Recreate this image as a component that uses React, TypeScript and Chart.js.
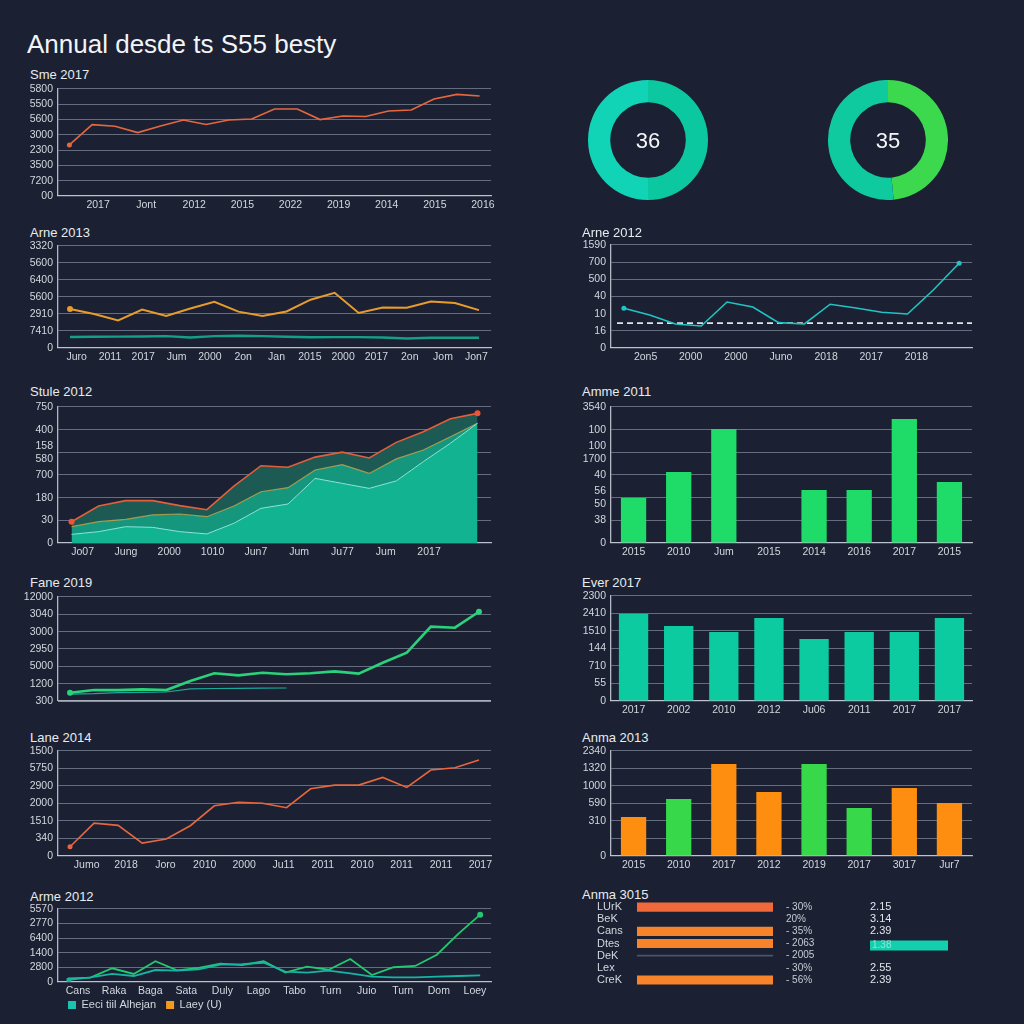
import React, { useEffect, useRef } from "react";
import { Chart, registerables } from "chart.js";

Chart.register(...registerables);

const FONT = "'Liberation Sans', Arial, Helvetica, sans-serif";
const BG = "#1b2132";
const GRID = "rgba(150,160,180,0.6)";
const AXIS = "rgba(205,210,222,0.85)";
const TICK = "#d3d7df";
const TITLE = "#e8ebf0";

Chart.defaults.font.family = FONT;
Chart.defaults.font.size = 10.5;
Chart.defaults.color = TICK;

// ===================== DATA =====================
const pageTitle = "Annual desde ts S55 besty";

// Left 1
const l1Title = "Sme 2017";
const l1YTicks = ["00", "7200", "3500", "2300", "3000", "5600", "5500", "5800"];
const l1XTicks = ["2017", "Jont", "2012", "2015", "2022", "2019", "2014", "2015", "2016"];
const l1Series = [3.34, 4.67, 4.56, 4.15, 4.58, 4.97, 4.68, 4.97, 5.04, 5.69, 5.69, 5.0, 5.23, 5.2, 5.56, 5.63, 6.35, 6.65, 6.54];

// Left 2
const l2Title = "Arne 2013";
const l2YTicks = ["0", "7410", "2910", "5600", "6400", "5600", "3320"];
const l2XTicks = ["Juro", "2011", "2017", "Jum", "2000", "2on", "Jan", "2015", "2000", "2017", "2on", "Jom", "Jon7"];
const l2Orange = [2.29, 2.0, 1.62, 2.26, 1.88, 2.32, 2.72, 2.14, 1.88, 2.15, 2.84, 3.25, 2.06, 2.38, 2.37, 2.73, 2.65, 2.23];
const l2Teal = [0.65, 0.66, 0.67, 0.68, 0.7, 0.62, 0.7, 0.72, 0.7, 0.66, 0.63, 0.64, 0.64, 0.62, 0.56, 0.6, 0.6, 0.6];

// Left 3
const l3Title = "Stule 2012";
const l3YTicks = ["0", "30", "180", "700", ["158", "580"], "400", "750"];
const l3XTicks = ["Jo07", "Jung", "2000", "1010", "Jun7", "Jum", "Ju77", "Jum", "2017", ""];
const l3High = [0.94, 1.63, 1.87, 1.87, 1.65, 1.47, 2.51, 3.41, 3.34, 3.79, 4.01, 3.75, 4.44, 4.91, 5.48, 5.72];
const l3Mid = [0.72, 0.94, 1.04, 1.24, 1.28, 1.16, 1.63, 2.26, 2.44, 3.22, 3.46, 3.07, 3.71, 4.1, 4.69, 5.28];
const l3Low = [0.38, 0.5, 0.72, 0.69, 0.5, 0.4, 0.87, 1.53, 1.72, 2.85, 2.63, 2.41, 2.74, 3.59, 4.4, 5.28];

// Left 4
const l4Title = "Fane 2019";
const l4YTicks = ["300", "1200", "5000", "2950", "3000", "3040", "12000"];
const l4Main = [0.48, 0.63, 0.63, 0.67, 0.63, 1.15, 1.6, 1.48, 1.63, 1.54, 1.6, 1.71, 1.58, 2.21, 2.79, 4.29, 4.23, 5.15];
const l4Second = [0.4, 0.42, 0.48, 0.5, 0.52, 0.7, 0.72, 0.73, 0.74, 0.75, null, null, null, null, null, null, null, null];

// Left 5
const l5Title = "Lane 2014";
const l5YTicks = ["0", "340", "1510", "2000", "2900", "5750", "1500"];
const l5XTicks = ["Jumo", "2018", "Joro", "2010", "2000", "Ju11", "2011", "2010", "2011", "2011", "2017"];
const l5Series = [0.53, 1.88, 1.75, 0.74, 0.97, 1.73, 2.87, 3.07, 3.01, 2.76, 3.84, 4.05, 4.05, 4.49, 3.92, 4.91, 5.04, 5.48];

// Left 6
const l6Title = "Arme 2012";
const l6YTicks = ["0", "2800", "1400", "6400", "2770", "5570"];
const l6XTicks = ["Cans", "Raka", "Baga", "Sata", "Duly", "Lago", "Tabo", "Turn", "Juio", "Turn", "Dom", "Loey"];
const l6Names = ["Eeci tiil Alhejan", "Laey (U)"];
const l6Teal = [0.14, 0.32, 0.55, 0.41, 0.82, 0.78, 0.87, 1.19, 1.23, 1.32, 0.71, 0.64, 0.78, 0.59, 0.37, 0.32, 0.32, 0.37, 0.41, 0.46];
const l6Green = [0.25, 0.3, 0.94, 0.55, 1.42, 0.8, 0.96, 1.25, 1.16, 1.42, 0.64, 1.05, 0.84, 1.58, 0.48, 1.01, 1.1, 1.87, 3.31, 4.61];

// Donuts
const donut1Value = "36";
const donut1Parts = [50, 50];
const donut2Value = "35";
const donut2Parts = [48.5, 51.5];

// Right 1
const r1Title = "Arne 2012";
const r1YTicks = ["0", "16", "10", "40", "500", "700", "1590"];
const r1XTicks = ["2on5", "2000", "2000", "Juno", "2018", "2017", "2018", ""];
const r1Series = [2.31, 1.92, 1.4, 1.28, 2.68, 2.39, 1.48, 1.4, 2.55, 2.33, 2.08, 1.98, 3.38, 4.94];
const r1Threshold = 1.45;

// Right 2
const r2Title = "Amme 2011";
const r2YTicks = ["0", "38", ["56", "50"], "40", ["100", "1700"], "100", "3540"];
const r2XTicks = ["2015", "2010", "Jum", "2015", "2014", "2016", "2017", "2015"];
const r2Values = [1.99, 3.13, 5.03, 0, 2.34, 2.34, 5.47, 2.69];

// Right 3
const r3Title = "Ever 2017";
const r3YTicks = ["0", "55", "710", "144", "1510", "2410", "2300"];
const r3XTicks = ["2017", "2002", "2010", "2012", "Ju06", "2011", "2017", "2017"];
const r3Values = [4.97, 4.28, 3.94, 4.74, 3.54, 3.94, 3.94, 4.74];

// Right 4
const r4Title = "Anma 2013";
const r4YTicks = ["0", "", "310", "590", "1000", "1320", "2340"];
const r4XTicks = ["2015", "2010", "2017", "2012", "2019", "2017", "3017", "Jur7"];
const r4Values = [2.23, 3.26, 5.26, 3.66, 5.26, 2.74, 3.89, 3.03];
const r4Kinds = ["o", "g", "o", "o", "g", "g", "o", "o"];

// Right 5
const r5Title = "Anma 3015";
const r5Cats = ["LUrK", "BeK", "Cans", "Dtes", "DeK", "Lex", "CreK"];
const r5Values = [100, 0, 100, 100, null, 0, 100];
const r5Rule = [null, null, null, null, 100, null, null];
const r5Pct = ["- 30%", "20%", "- 35%", "- 2063", "- 2005", "- 30%", "- 56%"];
const r5Score = ["2.15", "3.14", "2.39", "1.38", "", "2.55", "2.39"];
const r5Highlight = [false, false, false, true, false, false, false];

// ===================== HELPERS =====================
const ORANGE_RED = "#e6673f";

function dots(indices: number[], r = 2.5) {
  return (c: any) => {
    const n = c.dataset.data.length;
    return indices.map((i) => (i < 0 ? n + i : i)).includes(c.dataIndex) ? r : 0;
  };
}

function yAxis(labels: any[], width: number, hideGrid: number[] = []) {
  return {
    type: "linear",
    position: "left",
    min: 0,
    max: labels.length - 1,
    afterFit: (s: any) => {
      s.width = width;
    },
    afterBuildTicks: (s: any) => {
      s.ticks = labels.map((_: any, i: number) => ({ value: i }));
    },
    ticks: {
      callback: (v: any) => labels[v] ?? "",
      color: TICK,
      padding: 5,
      autoSkip: false,
    },
    grid: {
      color: (ctx: any) => (hideGrid.includes(ctx.index) ? "rgba(0,0,0,0)" : GRID),
      drawTicks: false,
      lineWidth: 1.1,
    },
    border: { display: true, color: AXIS, width: 1.3 },
  };
}

function xAxis(labels: string[], height: number, labelOffset = 0) {
  return {
    type: "category",
    position: "bottom",
    labels,
    offset: true,
    afterFit: (s: any) => {
      s.height = height;
    },
    grid: { display: false, drawTicks: false },
    border: { display: true, color: AXIS, width: 1.3 },
    ticks: { color: TICK, padding: 3, autoSkip: false, maxRotation: 0, labelOffset },
  };
}

function xData(n: number) {
  return {
    type: "category",
    position: "bottom",
    labels: Array.from({ length: n }, (_, i) => String(i)),
    offset: true,
    display: false,
  };
}

function lineDs(data: any[], color: string, width: number, extra: any = {}) {
  return {
    data,
    xAxisID: "xd",
    yAxisID: "y",
    borderColor: color,
    backgroundColor: color,
    borderWidth: width,
    pointRadius: 0,
    pointBorderWidth: 0,
    pointBackgroundColor: color,
    tension: 0,
    fill: false,
    spanGaps: false,
    ...extra,
  };
}

function baseOptions(pad: any) {
  return {
    responsive: false,
    animation: false,
    layout: { padding: pad },
    plugins: { legend: { display: false }, tooltip: { enabled: false } },
  };
}

const LEFT_PAD = { top: 12, right: 9, bottom: 0, left: 0 };
const RIGHT_PAD = { top: 12, right: 8, bottom: 0, left: 0 };

// ===================== CONFIGS =====================
const cfgL1 = () => ({
  type: "line",
  data: { datasets: [lineDs(l1Series, ORANGE_RED, 1.6, { pointRadius: dots([0]) })] },
  options: {
    ...baseOptions(LEFT_PAD),
    scales: { x: xAxis(l1XTicks, 22, 16), xd: xData(l1Series.length), y: yAxis(l1YTicks, 38) },
  },
});

const cfgL2 = () => ({
  type: "line",
  data: {
    datasets: [
      lineDs(l2Orange, "#e89c2c", 2, { pointRadius: dots([0], 3) }),
      lineDs(l2Teal, "#169f88", 2.4),
    ],
  },
  options: {
    ...baseOptions(LEFT_PAD),
    scales: { x: xAxis(l2XTicks, 22, 2), xd: xData(l2Orange.length), y: yAxis(l2YTicks, 38) },
  },
});

const cfgL3 = () => ({
  type: "line",
  data: {
    datasets: [
      lineDs(l3Low, "#8ee6dc", 1, { backgroundColor: "#11b391", fill: "origin" }),
      lineDs(l3Mid, "rgba(214,172,76,0.75)", 1.2, { backgroundColor: "#15977e", fill: "-1" }),
      lineDs(l3High, "#e35f3a", 1.6, {
        backgroundColor: "#1d5a54",
        fill: "-1",
        pointRadius: dots([0, -1], 3),
        pointBackgroundColor: "#ef5436",
      }),
    ],
  },
  options: {
    ...baseOptions(LEFT_PAD),
    scales: { x: xAxis(l3XTicks, 22, 3), xd: xData(l3High.length), y: yAxis(l3YTicks, 38) },
  },
});

const cfgL4 = () => ({
  type: "line",
  data: {
    datasets: [
      lineDs(l4Main, "#2bd27a", 2.6, { pointRadius: dots([0, -1], 3) }),
      lineDs(l4Second, "#1aa89a", 1.2),
    ],
  },
  options: {
    ...baseOptions({ top: 12, right: 9, bottom: 12, left: 0 }),
    scales: {
      xd: { ...xData(l4Main.length), display: false },
      y: { ...yAxis(l4YTicks, 38) },
    },
  },
  plugins: [
    {
      id: "baseLine",
      afterDraw(chart: any) {
        const { ctx, chartArea } = chart;
        ctx.save();
        ctx.strokeStyle = AXIS;
        ctx.lineWidth = 1.3;
        ctx.beginPath();
        ctx.moveTo(chartArea.left, chartArea.bottom);
        ctx.lineTo(chartArea.right, chartArea.bottom);
        ctx.stroke();
        ctx.restore();
      },
    },
  ],
});

const cfgL5 = () => ({
  type: "line",
  data: { datasets: [lineDs(l5Series, ORANGE_RED, 1.6, { pointRadius: dots([0]) })] },
  options: {
    ...baseOptions(LEFT_PAD),
    scales: { x: xAxis(l5XTicks, 22, 9), xd: xData(l5Series.length), y: yAxis(l5YTicks, 38) },
  },
});

const legendColors = ["#19c3b0", "#f39a1e"];
const cfgL6 = () => ({
  type: "line",
  data: {
    datasets: [
      lineDs(l6Teal, "#17b3a5", 1.8, { label: l6Names[0], pointRadius: dots([0]) }),
      lineDs(l6Green, "#23c870", 1.8, { label: l6Names[1], pointRadius: dots([-1], 3) }),
    ],
  },
  options: {
    ...baseOptions(LEFT_PAD),
    plugins: {
      tooltip: { enabled: false },
      legend: {
        display: true,
        position: "bottom",
        align: "start",
        labels: {
          boxWidth: 8,
          boxHeight: 8,
          padding: 10,
          color: TICK,
          font: { size: 11 },
          generateLabels: (chart: any) =>
            chart.data.datasets.map((d: any, i: number) => ({
              text: d.label,
              fillStyle: legendColors[i],
              strokeStyle: legendColors[i],
              lineWidth: 0,
              hidden: false,
              datasetIndex: i,
              fontColor: TICK,
            })),
        },
      },
    },
    scales: { x: xAxis(l6XTicks, 16, 2), xd: xData(l6Green.length), y: yAxis(l6YTicks, 38) },
  },
  plugins: [
    {
      id: "shiftLegend",
      afterLayout(chart: any) {
        if (chart.legend) {
          chart.legend.left += 38;
          chart.legend.right += 38;
          chart.legend.top -= 8.5;
          chart.legend.bottom -= 8.5;
        }
      },
    },
  ],
});

const cfgDonut = (parts: number[], colors: string[]) => () => ({
  type: "doughnut",
  data: { datasets: [{ data: parts, backgroundColor: colors, borderWidth: 0, hoverOffset: 0, offset: 0 }] },
  options: { ...baseOptions(0), cutout: "63%" },
});

const cfgR1 = () => ({
  type: "line",
  data: { datasets: [lineDs(r1Series, "#20c4c4", 1.6, { pointRadius: dots([0, -1], 2.5) })] },
  options: {
    ...baseOptions(RIGHT_PAD),
    scales: { x: xAxis(r1XTicks, 22, 12), xd: xData(r1Series.length), y: yAxis(r1YTicks, 41, [2]) },
  },
  plugins: [
    {
      id: "threshold",
      beforeDatasetsDraw(chart: any) {
        const { ctx, chartArea, scales } = chart;
        const y = scales.y.getPixelForValue(r1Threshold);
        ctx.save();
        ctx.setLineDash([6, 4]);
        ctx.strokeStyle = "#dfe3ea";
        ctx.lineWidth = 1.6;
        ctx.beginPath();
        ctx.moveTo(chartArea.left + 6, y);
        ctx.lineTo(chartArea.right, y);
        ctx.stroke();
        ctx.restore();
      },
    },
  ],
});

const barCfg = (labels: string[], values: number[], colors: any, yTicks: any[], pct: number) => () => ({
  type: "bar",
  data: {
    labels,
    datasets: [{ data: values, backgroundColor: colors, barPercentage: pct, categoryPercentage: 1 }],
  },
  options: {
    ...baseOptions(RIGHT_PAD),
    scales: { x: xAxis(labels, 22, 0), y: yAxis(yTicks, 41) },
  },
});

const cfgR2 = barCfg(r2XTicks, r2Values, "#1fdc68", r2YTicks, 0.56);
const cfgR3 = barCfg(r3XTicks, r3Values, "#0ccba0", r3YTicks, 0.65);
const cfgR4 = barCfg(
  r4XTicks,
  r4Values,
  r4Kinds.map((k) => (k === "o" ? "#fd8e10" : "#38d84b")),
  r4YTicks,
  0.56
);

const cfgR5 = () => ({
  type: "bar",
  data: {
    labels: r5Cats,
    datasets: [
      {
        data: r5Values,
        backgroundColor: r5Cats.map((_, i) => (i === 0 ? "#f0693b" : "#f7832a")),
        barPercentage: 0.75,
        categoryPercentage: 1,
        grouped: false,
      },
      { data: r5Rule, backgroundColor: "#4a546a", barPercentage: 0.14, categoryPercentage: 1, grouped: false },
    ],
  },
  options: {
    ...baseOptions({ top: 9, bottom: 9, left: 0, right: 187 }),
    indexAxis: "y",
    scales: {
      x: { type: "linear", min: 0, max: 100, display: false },
      y: {
        type: "category",
        afterFit: (s: any) => {
          s.width = 40;
        },
        grid: { display: false, drawTicks: false },
        border: { display: false },
        ticks: { crossAlign: "far", padding: 2, color: TICK, font: { size: 11 }, autoSkip: false },
      },
    },
  },
  plugins: [
    {
      id: "tableCols",
      afterDraw(chart: any) {
        const { ctx, chartArea, scales } = chart;
        ctx.save();
        ctx.textBaseline = "middle";
        r5Cats.forEach((_, i) => {
          const y = scales.y.getPixelForValue(i);
          ctx.font = `10px ${FONT}`;
          ctx.fillStyle = "#c6cbd5";
          ctx.textAlign = "left";
          ctx.fillText(r5Pct[i], chartArea.right + 13, y);
          const x2 = chartArea.right + 97;
          if (r5Highlight[i]) {
            ctx.fillStyle = "#12cfae";
            ctx.fillRect(x2, y - 3, 78, 10);
            ctx.fillStyle = "rgba(240,250,250,0.55)";
            ctx.font = `10px ${FONT}`;
            ctx.fillText(r5Score[i], x2 + 2, y + 2);
          } else {
            ctx.fillStyle = "#e2e5eb";
            ctx.font = `11px ${FONT}`;
            ctx.fillText(r5Score[i], x2, y);
          }
        });
        ctx.restore();
      },
    },
  ],
});

// ===================== COMPONENTS =====================
function ChartView({ left, top, width, height, make }: any) {
  const ref = useRef<HTMLCanvasElement | null>(null);
  useEffect(() => {
    if (!ref.current) return;
    const chart = new Chart(ref.current, make());
    return () => chart.destroy();
  }, []);
  return (
    <canvas
      ref={ref}
      width={width}
      height={height}
      style={{ position: "absolute", left, top, width, height, display: "block" }}
    />
  );
}

function PanelTitle({ x, y, text }: any) {
  return (
    <div
      style={{
        position: "absolute",
        left: x,
        top: y - 8,
        fontSize: 13,
        lineHeight: "16px",
        color: TITLE,
        fontFamily: FONT,
        whiteSpace: "nowrap",
      }}
    >
      {text}
    </div>
  );
}

function CenterText({ cx, cy, text }: any) {
  return (
    <div
      style={{
        position: "absolute",
        left: cx - 40,
        top: cy - 14,
        width: 80,
        height: 28,
        lineHeight: "28px",
        textAlign: "center",
        fontSize: 22,
        color: "#f4f6f8",
        fontFamily: FONT,
      }}
    >
      {text}
    </div>
  );
}

export default function App() {
  return (
    <div
      style={{
        position: "fixed",
        left: 0,
        top: 0,
        width: 1024,
        height: 1024,
        background: BG,
        overflow: "hidden",
        fontFamily: FONT,
      }}
    >
      <div
        style={{
          position: "absolute",
          left: 27,
          top: 31,
          fontSize: 26,
          lineHeight: "26px",
          color: "#f2f4f8",
          whiteSpace: "nowrap",
        }}
      >
        {pageTitle}
      </div>

      <PanelTitle x={30} y={75} text={l1Title} />
      <ChartView left={20} top={77} width={480} height={141} make={cfgL1} />

      <PanelTitle x={30} y={233} text={l2Title} />
      <ChartView left={20} top={234} width={480} height={136} make={cfgL2} />

      <PanelTitle x={30} y={392} text={l3Title} />
      <ChartView left={20} top={395} width={480} height={170} make={cfgL3} />

      <PanelTitle x={30} y={583} text={l4Title} />
      <ChartView left={20} top={585} width={480} height={128} make={cfgL4} />

      <PanelTitle x={30} y={738} text={l5Title} />
      <ChartView left={20} top={739} width={480} height={139} make={cfgL5} />

      <PanelTitle x={30} y={897} text={l6Title} />
      <ChartView left={20} top={897} width={480} height={132} make={cfgL6} />

      <ChartView left={588} top={80} width={120} height={120} make={cfgDonut(donut1Parts, ["#0cc8a0", "#11d3b6"])} />
      <CenterText cx={648} cy={141} text={donut1Value} />
      <ChartView left={828} top={80} width={120} height={120} make={cfgDonut(donut2Parts, ["#3cd84e", "#0fc99f"])} />
      <CenterText cx={888} cy={141} text={donut2Value} />

      <PanelTitle x={582} y={233} text={r1Title} />
      <ChartView left={570} top={233} width={410} height={137} make={cfgR1} />

      <PanelTitle x={582} y={392} text={r2Title} />
      <ChartView left={570} top={395} width={410} height={170} make={cfgR2} />

      <PanelTitle x={582} y={583} text={r3Title} />
      <ChartView left={570} top={584} width={410} height={139} make={cfgR3} />

      <PanelTitle x={582} y={738} text={r4Title} />
      <ChartView left={570} top={739} width={410} height={139} make={cfgR4} />

      <PanelTitle x={582} y={895} text={r5Title} />
      <ChartView left={597} top={892} width={363} height={103} make={cfgR5} />
    </div>
  );
}
